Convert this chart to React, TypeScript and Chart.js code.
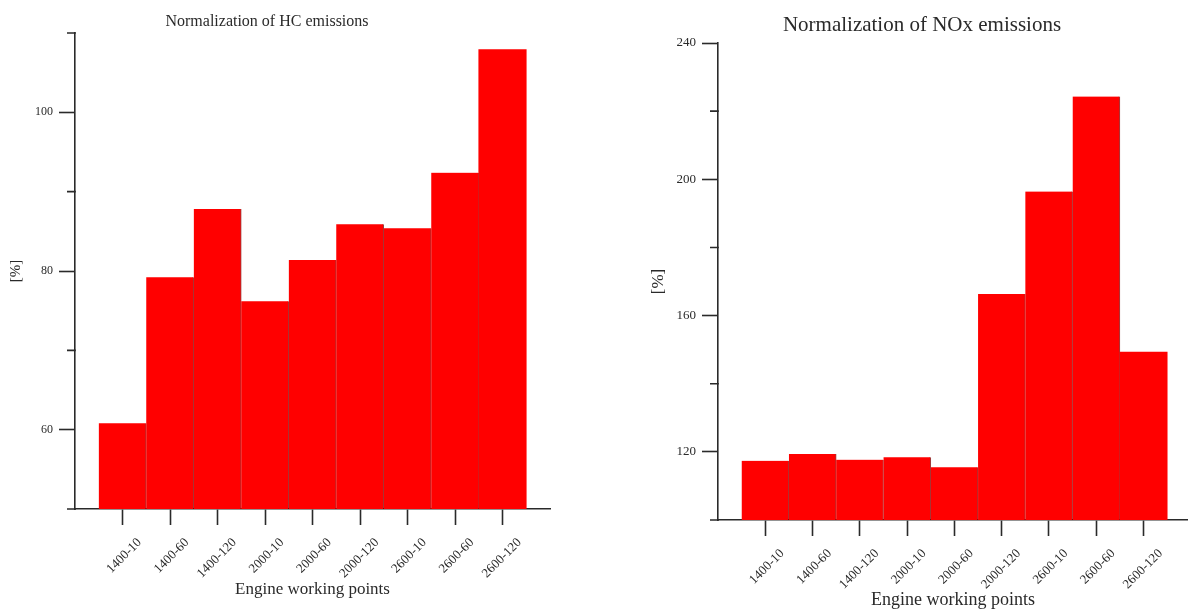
import React, { useEffect, useRef } from 'react';
import { Chart, registerables } from 'chart.js';

Chart.register(...registerables);

// ---- data ----
const categories = ['1400-10', '1400-60', '1400-120', '2000-10', '2000-60', '2000-120', '2600-10', '2600-60', '2600-120'];
const hcValues = [60.8, 79.2, 87.8, 76.2, 81.4, 85.9, 85.4, 92.4, 107.9];
const noxValues = [117.4, 119.4, 117.7, 118.4, 115.5, 166.3, 196.4, 224.3, 149.3];
const hcMajorTicks = [60, 80, 100];
const hcMinorTicks = [50, 70, 90, 110];
const noxMajorTicks = [120, 160, 200, 240];
const noxMinorTicks = [100, 140, 180, 220];

const FONT = "'Liberation Serif', 'Times New Roman', serif";
const INK = '#2a2a2a';
const RED = '#ff0000';

const titlePlugin = {
  id: 'plotTitle',
  afterDraw(chart: any, _args: any, opts: any) {
    const ctx = chart.ctx;
    ctx.save();
    ctx.font = `${opts.size}px ${FONT}`;
    ctx.fillStyle = INK;
    ctx.textAlign = 'center';
    ctx.textBaseline = 'alphabetic';
    ctx.fillText(opts.text, opts.x, opts.y);
    ctx.restore();
  },
};

const minorTickPlugin = {
  id: 'minorTicks',
  afterDraw(chart: any, _args: any, opts: any) {
    const ctx = chart.ctx;
    const y = chart.scales.y;
    const left = chart.chartArea.left;
    ctx.save();
    ctx.strokeStyle = INK;
    ctx.lineWidth = 1.6;
    ctx.beginPath();
    for (const v of opts.values as number[]) {
      const p = y.getPixelForValue(v);
      ctx.moveTo(left - opts.length, p);
      ctx.lineTo(left + 0.8, p);
    }
    ctx.stroke();
    ctx.restore();
  },
};

type Spec = {
  title: string;
  titleSize: number;
  titleX: number;
  titleY: number;
  values: number[];
  yMin: number;
  yMax: number;
  major: number[];
  minor: number[];
  xMax: number;
  padding: { left: number; right: number; top: number; bottom: number };
  yAxisWidth: number;
  xAxisHeight: number;
  tickSize: number;
  xTickSize: number;
  xTickPadding: number;
  yTitleSize: number;
  xTitleSize: number;
};

function makeConfig(spec: Spec): any {
  const n = categories.length;
  return {
    type: 'bar',
    data: {
      datasets: [
        {
          data: categories.map((_, i) => ({ x: i, y: spec.values[i] })),
          backgroundColor: RED,
          borderColor: 'rgba(110,0,0,0.75)',
          borderWidth: (ctx: any) =>
            ctx.dataIndex < n - 1 ? { left: 0, right: 1, top: 0, bottom: 0 } : 0,
          borderSkipped: false,
          barPercentage: 1,
          categoryPercentage: 1,
        },
      ],
    },
    options: {
      animation: false,
      responsive: false,
      layout: { padding: spec.padding },
      plugins: {
        legend: { display: false },
        tooltip: { enabled: false },
        title: { display: false },
        plotTitle: { text: spec.title, size: spec.titleSize, x: spec.titleX, y: spec.titleY },
        minorTicks: { values: spec.minor, length: 8 },
      },
      scales: {
        x: {
          type: 'linear',
          min: -1,
          max: spec.xMax,
          offset: false,
          afterBuildTicks: (s: any) => {
            s.ticks = categories.map((_, i) => ({ value: i }));
          },
          afterFit: (s: any) => {
            s.height = spec.xAxisHeight;
          },
          grid: {
            display: true,
            drawOnChartArea: false,
            drawTicks: true,
            tickLength: 16,
            tickColor: INK,
            tickWidth: 1.6,
            offset: false,
          },
          border: { display: true, color: INK, width: 1.6 },
          ticks: {
            autoSkip: false,
            minRotation: 45,
            maxRotation: 45,
            labelOffset: 17,
            padding: spec.xTickPadding,
            color: INK,
            font: { family: FONT, size: spec.xTickSize },
            callback: (v: any) => categories[Math.round(Number(v))] ?? '',
          },
          title: {
            display: true,
            text: 'Engine working points',
            color: INK,
            padding: 0,
            font: { family: FONT, size: spec.xTitleSize },
          },
        },
        y: {
          type: 'linear',
          min: spec.yMin,
          max: spec.yMax,
          afterBuildTicks: (s: any) => {
            s.ticks = spec.major.map((v) => ({ value: v }));
          },
          afterFit: (s: any) => {
            s.width = spec.yAxisWidth;
          },
          grid: {
            display: true,
            drawOnChartArea: false,
            drawTicks: true,
            tickLength: 16,
            tickColor: INK,
            tickWidth: 1.6,
          },
          border: { display: true, color: INK, width: 1.6 },
          ticks: {
            padding: 6,
            color: INK,
            font: { family: FONT, size: spec.tickSize },
            callback: (v: any) => String(v),
          },
          title: {
            display: true,
            text: '[%]',
            color: INK,
            padding: 0,
            font: { family: FONT, size: spec.yTitleSize },
          },
        },
      },
    },
    plugins: [titlePlugin, minorTickPlugin],
  };
}

const hcSpec: Spec = {
  title: 'Normalization of HC emissions',
  titleSize: 16,
  titleX: 267,
  titleY: 26,
  values: hcValues,
  yMin: 50,
  yMax: 110,
  major: hcMajorTicks,
  minor: hcMinorTicks,
  xMax: 9,
  padding: { left: 7, right: 50, top: 33, bottom: 13 },
  yAxisWidth: 68,
  xAxisHeight: 91,
  tickSize: 12,
  xTickSize: 13,
  xTickPadding: 10,
  yTitleSize: 15,
  xTitleSize: 17,
};

const noxSpec: Spec = {
  title: 'Normalization of NOx emissions',
  titleSize: 21,
  titleX: 322,
  titleY: 31,
  values: noxValues,
  yMin: 100,
  yMax: 240,
  major: noxMajorTicks,
  minor: noxMinorTicks,
  xMax: 8.94,
  padding: { left: 48, right: 0, top: 43, bottom: 2 },
  yAxisWidth: 70,
  xAxisHeight: 91,
  tickSize: 13,
  xTickSize: 13,
  xTickPadding: 10,
  yTitleSize: 17,
  xTitleSize: 18,
};

function ChartCanvas({ spec, left, width }: { spec: Spec; left: number; width: number }) {
  const ref = useRef<HTMLCanvasElement | null>(null);
  useEffect(() => {
    if (!ref.current) return;
    const chart = new Chart(ref.current, makeConfig(spec));
    return () => chart.destroy();
  }, [spec]);
  return (
    <canvas
      ref={ref}
      width={width}
      height={613}
      style={{ position: 'absolute', left, top: 0, width, height: 613 }}
    />
  );
}

export default function App() {
  return (
    <div
      style={{
        position: 'fixed',
        left: 0,
        top: 0,
        width: 1188,
        height: 613,
        background: '#ffffff',
        overflow: 'hidden',
      }}
    >
      <ChartCanvas spec={hcSpec} left={0} width={600} />
      <ChartCanvas spec={noxSpec} left={600} width={588} />
    </div>
  );
}
